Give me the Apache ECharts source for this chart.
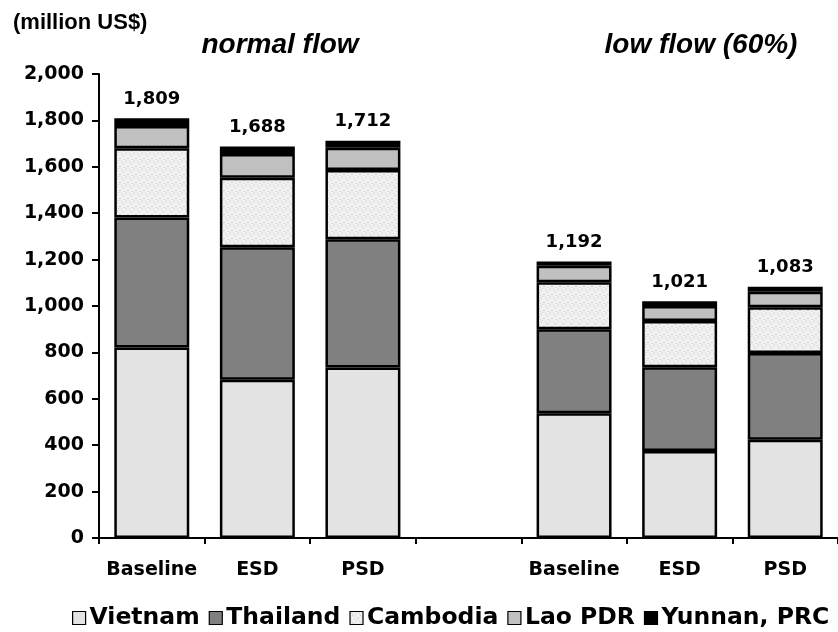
<!DOCTYPE html>
<html><head><meta charset="utf-8">
<script src="https://cdn.jsdelivr.net/npm/echarts@6/dist/echarts.min.js"></script>
<style>html,body{margin:0;padding:0;background:#fff}#c{width:838px;height:632px}</style>
</head><body><div id="c"></div>
<script>
const categories = ['Baseline','ESD','PSD','','Baseline','ESD','PSD'];
const vietnam  = [821, 682, 735, null, 538, 375, 423];
const thailand = [561, 571, 553, null, 362, 361, 374];
const cambodia = [298, 300, 298, null, 202, 199, 198];
const laoPDR   = [96, 102, 96, null, 71, 65, 66];
const yunnan   = [33, 33, 30, null, 19, 21, 22];
const totals   = [1809, 1688, 1712, null, 1192, 1021, 1083];
const yTicks   = [0, 200, 400, 600, 800, 1000, 1200, 1400, 1600, 1800, 2000];

const FONT = '"Liberation Sans", Arial, sans-serif';
const WIDE = '"DejaVu Sans", sans-serif';
function fmt(v){ return v == null ? '' : String(v).replace(/\B(?=(\d{3})+(?!\d))/g, ','); }

// speckled fill for Cambodia
const pc = document.createElement('canvas');
pc.width = 8; pc.height = 8;
const g = pc.getContext('2d');
g.fillStyle = '#f1f1f1'; g.fillRect(0,0,8,8);
g.fillStyle = '#cfcfcf';
[[1,1],[5,2],[3,4],[7,6],[0,6],[4,7],[6,0],[2,3]].forEach(p => g.fillRect(p[0],p[1],1,1));
const speckle = { image: pc, repeat: 'repeat' };

const border = { borderColor: '#000', borderWidth: 2.5 };
function mk(name, data, color, extra){
  return Object.assign({
    name, type: 'bar', stack: 'all', data, barWidth: '71%',
    itemStyle: Object.assign({ color }, border),
    emphasis: { disabled: true }
  }, extra || {});
}

const chart = echarts.init(document.getElementById('c'), null, { renderer: 'canvas' });
chart.setOption({
  animation: false,
  backgroundColor: '#fff',
  grid: { left: 99, top: 74, width: 748, height: 464, containLabel: false },
  graphic: [
    { type: 'text', left: 13, top: 12, style: { text: '(million US$)', font: 'bold 22px ' + FONT, fill: '#000' } },
    { type: 'text', x: 280, y: 45, style: { text: 'normal flow', font: 'italic bold 28px ' + FONT, fill: '#000', align: 'center', verticalAlign: 'middle' } },
    { type: 'text', x: 701, y: 45, style: { text: 'low flow (60%)', font: 'italic bold 28px ' + FONT, fill: '#000', align: 'center', verticalAlign: 'middle' } }
  ],
  legend: {
    left: 72, top: 606, width: 1200, padding: 0, itemGap: 9, itemWidth: 13, itemHeight: 13, icon: 'rect',
    itemStyle: { borderColor: '#000', borderWidth: 1.2 },
    textStyle: { fontFamily: WIDE, fontWeight: 'bold', fontSize: 23.5, color: '#000', padding: [0,0,0,-1] },
    data: ['Vietnam','Thailand','Cambodia','Lao PDR','Yunnan, PRC']
  },
  xAxis: {
    type: 'category', data: categories,
    axisLine: { lineStyle: { color: '#000', width: 2 } },
    axisTick: { show: true, interval: 0, length: 6, lineStyle: { color: '#000', width: 2 } },
    axisLabel: { interval: 0, margin: 23, color: '#000', fontFamily: WIDE, fontWeight: 'bold', fontSize: 19 }
  },
  yAxis: {
    type: 'value', min: yTicks[0], max: yTicks[yTicks.length-1], interval: 200,
    splitLine: { show: false },
    axisLine: { show: true, lineStyle: { color: '#000', width: 2 } },
    axisTick: { show: true, length: 7, lineStyle: { color: '#000', width: 2 } },
    axisLabel: { margin: 15, color: '#000', fontFamily: WIDE, fontWeight: 'bold', fontSize: 19, formatter: v => fmt(v) }
  },
  series: [
    mk('Vietnam', vietnam, '#e3e3e3'),
    mk('Thailand', thailand, '#808080'),
    mk('Cambodia', cambodia, speckle),
    mk('Lao PDR', laoPDR, '#c0c0c0'),
    mk('Yunnan, PRC', yunnan, '#000', {
      label: { show: true, position: 'top', distance: 10, color: '#000', fontFamily: WIDE, fontWeight: 'bold', fontSize: 18,
        formatter: p => fmt(totals[p.dataIndex]) }
    })
  ]
});
</script></body></html>
